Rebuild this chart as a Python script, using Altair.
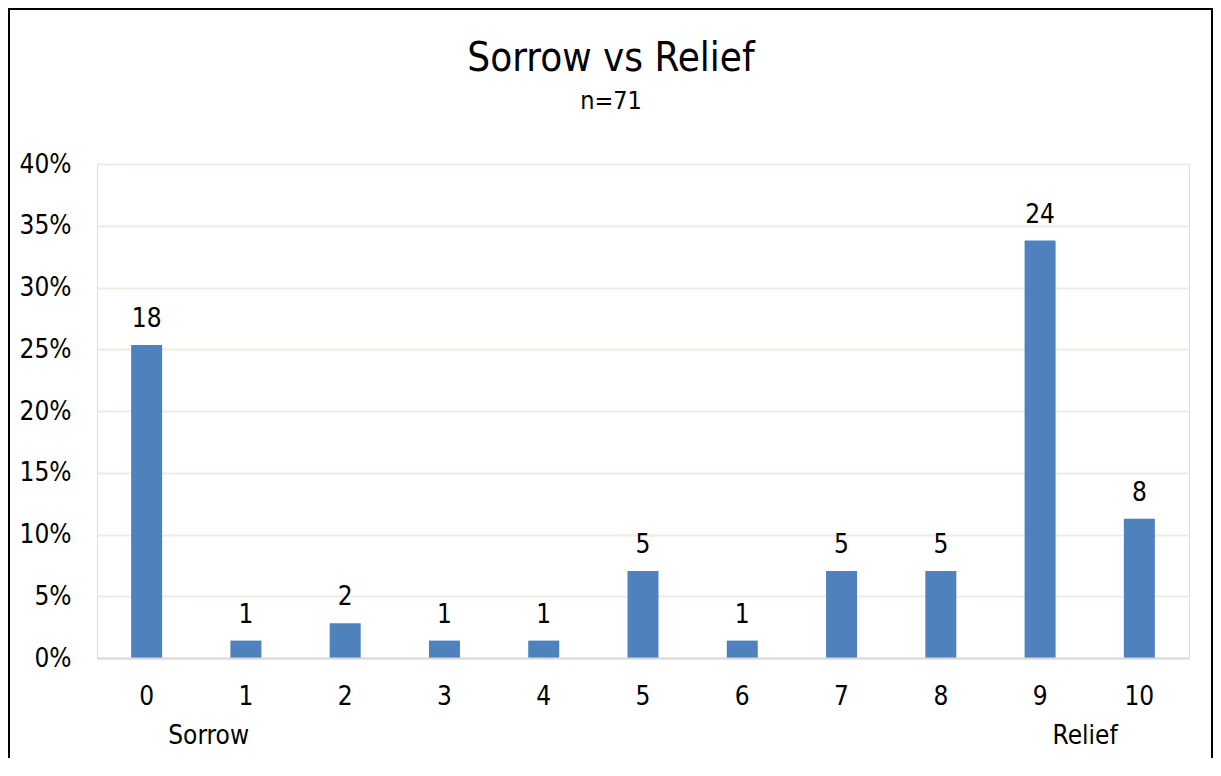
import altair as alt
import pandas as pd

scores = ["0", "1", "2", "3", "4", "5", "6", "7", "8", "9", "10"]
counts = [18, 1, 2, 1, 1, 5, 1, 5, 5, 24, 8]
n_total = 71
y_ticks = [0, 0.05, 0.10, 0.15, 0.20, 0.25, 0.30, 0.35, 0.40]
title_text = "Sorrow vs Relief"
subtitle_text = "n=71"

df = pd.DataFrame({
    "score": scores,
    "count": counts,
    "share": [c / n_total for c in counts],
})

FONT = "Liberation Sans Narrow, Arial Narrow, DejaVu Sans Condensed, Liberation Sans, Arial, sans-serif"
FS = 26
W, H = 1092, 494

x_enc = alt.X("score:N", sort=scores,
              scale=alt.Scale(paddingInner=0.69, paddingOuter=0.345),
              axis=alt.Axis(title=None, labelAngle=0, labelFontSize=FS, labelFont=FONT,
                            labelColor="#000000", labelPadding=25, ticks=False,
                            domain=True, domainColor="#D9D9D9", domainWidth=2,
                            grid=False, zindex=1))
y_enc = alt.Y("share:Q", scale=alt.Scale(domain=[0, 0.4], nice=False),
              axis=alt.Axis(title=None, format=".0%", values=y_ticks, labelFontSize=FS,
                            labelFont=FONT, labelColor="#000000", labelPadding=26,
                            ticks=False, domain=False, grid=True,
                            gridColor="#EEECE1", gridWidth=2))

bars = alt.Chart(df).mark_bar(color="#4F81BD", size=31).encode(x=x_enc, y=y_enc)

labels = alt.Chart(df).mark_text(fontSize=FS, font=FONT, color="#000000",
                                 baseline="alphabetic", dy=-18).encode(
    x=alt.X("score:N", sort=scores), y="share:Q", text="count:Q")

sorrow = alt.Chart(pd.DataFrame({"score": ["0"], "t": ["Sorrow"]})).mark_text(
    fontSize=FS, font=FONT, color="#000000", baseline="alphabetic", dx=62).encode(
    x=alt.X("score:N", sort=scores), y=alt.value(580), text="t:N")
relief = alt.Chart(pd.DataFrame({"score": ["9"], "t": ["Relief"]})).mark_text(
    fontSize=FS, font=FONT, color="#000000", baseline="alphabetic", dx=45).encode(
    x=alt.X("score:N", sort=scores), y=alt.value(580), text="t:N")

title = alt.Chart(pd.DataFrame({"t": [title_text]})).mark_text(
    fontSize=40, font=FONT, color="#000000", baseline="alphabetic", align="center").encode(
    x=alt.value(514), y=alt.value(-93), text="t:N")
subtitle = alt.Chart(pd.DataFrame({"t": [subtitle_text]})).mark_text(
    fontSize=25, font=FONT, color="#000000", baseline="alphabetic", align="center").encode(
    x=alt.value(514), y=alt.value(-55), text="t:N")

one = pd.DataFrame({"a": [0]})
frame_left = alt.Chart(one).mark_rule(color="#000000", strokeWidth=2).encode(
    x=alt.value(-88), y=alt.value(-155), y2=alt.value(620))
frame_right = alt.Chart(one).mark_rule(color="#000000", strokeWidth=2).encode(
    x=alt.value(1115), y=alt.value(-155), y2=alt.value(620))
frame_top = alt.Chart(one).mark_rule(color="#000000", strokeWidth=2).encode(
    x=alt.value(-89), x2=alt.value(1116), y=alt.value(-155))

chart = alt.layer(bars, labels, sorrow, relief, title, subtitle,
                  frame_left, frame_right, frame_top).properties(
    width=W, height=H,
    autosize=alt.AutoSizeParams(type="none"),
    padding={"left": 89, "top": 156, "right": 24, "bottom": 100},
).configure_view(stroke=None).configure(background="#FFFFFF")

chart.save("out.html", embed_options={"renderer": "svg", "actions": False})
